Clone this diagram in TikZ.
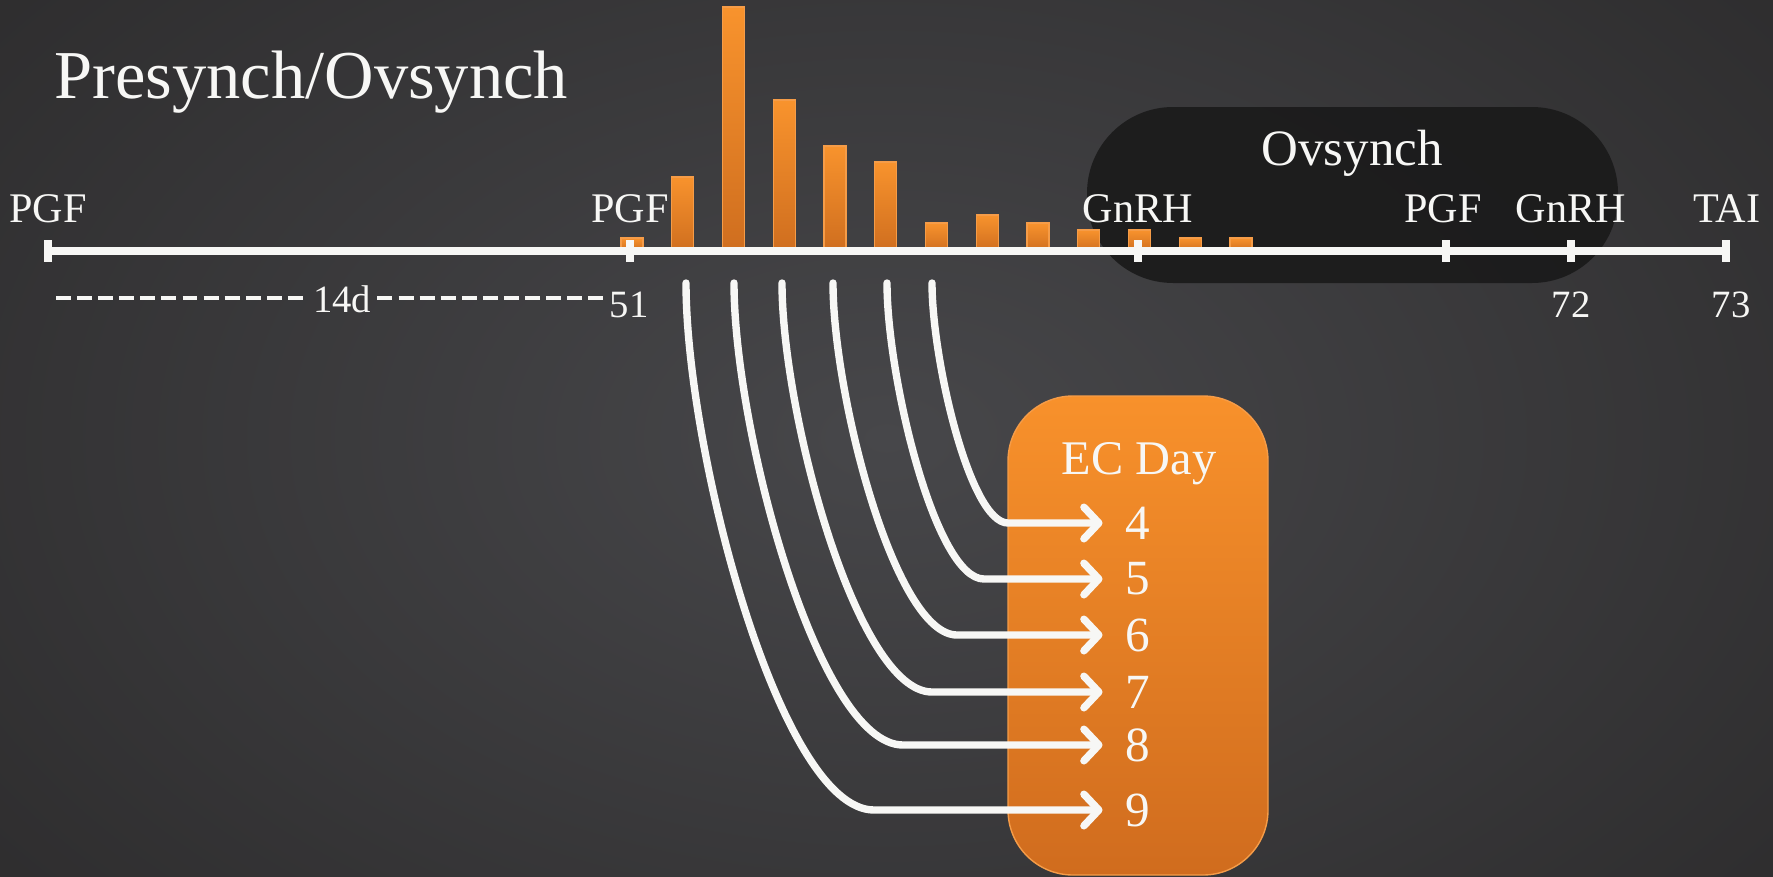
\documentclass[tikz,border=0pt]{standalone}
\usepackage{fontspec}
\setmainfont{Liberation Serif}
\usetikzlibrary{positioning, arrows.meta, calc}
\definecolor{boardMid}{HTML}{47474A}
\definecolor{boardEdge}{HTML}{2C2B2C}
\definecolor{chalk}{HTML}{F7F7F5}
\definecolor{ovFill}{HTML}{1A1A1A}
\definecolor{barTop}{HTML}{F8932D}
\definecolor{barBot}{HTML}{CF6E1F}
\definecolor{barEdge}{HTML}{F59C48}
\definecolor{ecTop}{HTML}{F8912B}
\definecolor{ecBot}{HTML}{D06C1E}
\tikzset{
	title node/.style={text=chalk, inner sep=0pt, font=\fontsize{39}{44}\selectfont},
	event node/.style={text=chalk, anchor=base, font=\fontsize{24}{28}\selectfont},
	day node/.style={text=chalk, anchor=base, inner xsep=3.5pt, font=\fontsize{22}{26}\selectfont},
	ec node/.style={text=chalk, inner xsep=13pt, inner ysep=0pt, font=\fontsize{28}{32}\selectfont},
	timeline/.style={draw=chalk, line width=4.5pt},
	dash line/.style={draw=chalk, line width=2.4pt, dash pattern=on 8.5pt off 3.5pt},
	bar/.style={top color=barTop, bottom color=barBot, draw=barEdge, line width=0.8pt},
	ec arrow/.style={draw=chalk, line width=4.2pt, line cap=round, -{Straight Barb[round, length=8.5pt, width=18pt]}},
}

\begin{document}
\begin{tikzpicture}[x=0.02cm, y=-0.02cm]
	% Board
	\useasboundingbox (0,0) rectangle (1773,876);
	\shade[inner color=boardMid, outer color=boardEdge] (-350,-350) rectangle (2123,1226);
	% Boxes
	\fill[ovFill, opacity=0.9, rounded corners=49pt] (1087,107) rectangle (1618,283);
	\draw[top color=ecTop, bottom color=ecBot, draw=barEdge, line width=0.8pt, rounded corners=37pt] (1008,396) rectangle (1268,875);
	% Bars
	\foreach \i/\h in {0/238, 1/177, 2/7, 3/100, 4/146, 5/162, 6/223, 7/215, 8/223, 9/230, 10/230, 11/238, 12/238}
		\draw[bar] ({632+50.75*\i-11},251) rectangle ({632+50.75*\i+11},\h);
	% Timeline
	\coordinate (tA) at (48,251);
	\coordinate (tB) at (630,251);
	\coordinate (tC) at (1138,251);
	\coordinate (tD) at (1446,251);
	\coordinate (tE) at (1571,251);
	\coordinate (tF) at (1726,251);
	\draw[timeline] (tA) -- (tF);
	\foreach \t in {tA, tB, tC, tD, tE, tF}
		\draw[timeline] (\t) ++(0,-11) -- ++(0,22);
	% Labels
	\node[title node, anchor=base west] (title) at (54,98) {Presynch/Ovsynch};
	\node[text=chalk, anchor=base, font=\fontsize{29}{34}\selectfont] (ovsynch) at (1352,165) {Ovsynch};
	\node[event node] (pgfA) at (48,222) {PGF};
	\node[event node] (pgfB) at (630,222) {PGF};
	\node[event node] (gnrhA) at (1138,222) {GnRH};
	\node[event node] (pgfC) at (1443,222) {PGF};
	\node[event node] (gnrhB) at (1571,222) {GnRH};
	\node[event node] (tai) at (1727,222) {TAI};
	% Days
	\coordinate (dashStart) at (56,298);
	\node[day node] (dur) at (342,312) {14d};
	\node[day node] (dayB) at (629,317) {51};
	\node[day node] (dayE) at (1571,317) {72};
	\node[day node] (dayF) at (1731,317) {73};
	\draw[dash line] (dashStart) -- (dashStart -| dur.west);
	\draw[dash line] (dur.east |- dashStart) -- (dashStart -| dayB.west);
	% EC days
	\node[text=chalk, anchor=base, font=\fontsize{27.5}{32}\selectfont] (ecday) at (1139,474) {EC Day};
	\foreach \n/\xs/\xc/\ye in {4/932/1008/523, 5/887/984/579, 6/833/957/635, 7/782/932/692, 8/734/903/745, 9/686/874/810} {
		\node[ec node] (d\n) at (1138,\ye) {\n};
		\coordinate (s\n) at (\xs,283);
		\coordinate (c\n) at (\xc,\ye);
		\draw[ec arrow] (s\n) .. controls +(0,{0.32*(\ye-283)}) and +({-0.5*(\xc-\xs)},0) .. (c\n) -- (d\n.west);
	}
\end{tikzpicture}
\end{document}
